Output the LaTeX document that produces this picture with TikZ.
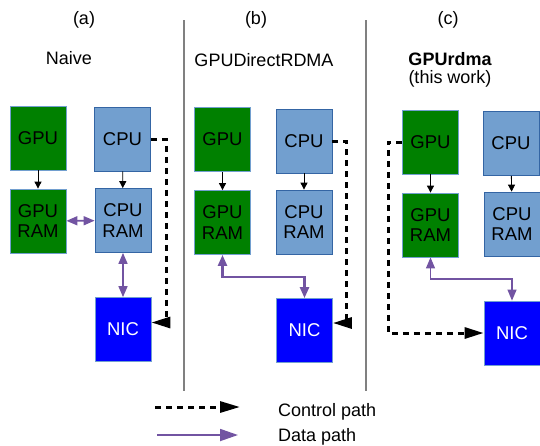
\documentclass[tikz,border=0pt]{standalone}
\usepackage{fontspec}
\setmainfont{Liberation Sans}
\usetikzlibrary{arrows.meta}

\definecolor{gpugreen}{RGB}{0,128,0}
\definecolor{cpublue}{RGB}{114,159,207}
\definecolor{cpuedge}{RGB}{52,101,164}
\definecolor{nicblue}{RGB}{0,0,255}
\definecolor{datapurple}{RGB}{114,84,162}
\definecolor{divgray}{RGB}{128,128,128}

\newcommand{\boxfont}{\fontsize{18.5}{20.5}\selectfont}
\newcommand{\labfont}{\fontsize{18}{20}\selectfont}

\begin{document}
\begin{tikzpicture}[x=1pt,y=-1pt,
  unit/.style={draw, line width=0.8pt, minimum width=56pt, minimum height=64pt,
    inner sep=0pt, align=center, font=\boxfont},
  gpubox/.style={unit, fill=gpugreen, draw=cpublue, text=black},
  cpubox/.style={unit, fill=cpublue, draw=cpuedge, text=black},
  nicbox/.style={unit, fill=nicblue, draw=cpublue, text=white},
  lab/.style={font=\labfont, inner sep=0pt, anchor=base},
  flow/.style={-{Triangle[length=7pt,width=7pt]}, line width=0.9pt, black},
  ctrl/.style={-{Triangle[length=19pt,width=11pt]}, line width=3pt, black,
    dash pattern=on 6pt off 5pt},
  data/.style={{Triangle[length=11pt,width=9pt]}-{Triangle[length=11pt,width=9pt]},
    line width=1.6pt, datapurple},
  divider/.style={line width=1.6pt, divgray}]

\useasboundingbox (0,0) rectangle (540,445);

% panel dividers
\draw[divider] (184,20) coordinate (d1top) -- (184,391) coordinate (d1bot);
\draw[divider] (366,20) coordinate (d2top) -- (366,391) coordinate (d2bot);

% headings
\node[lab] (ta) at (84,24.5) {(a)};
\node[lab] (tb) at (256,24.5) {(b)};
\node[lab] (tc) at (448,24.5) {(c)};
\node[lab] (na) at (69,64) {Naive};
\node[lab] (nb) at (264,66) {GPUDirectRDMA};
\node[lab] (nc) at (450,65) {\bfseries GPUrdma};
\node[lab] (nc2) at (450,83) {(this work)};

% (a) naive
\node[gpubox] (a-gpu)  at (38,138)    {GPU};
\node[gpubox] (a-gram) at (38,221)    {GPU\\RAM};
\node[cpubox] (a-cpu)  at (122.5,139) {CPU};
\node[cpubox] (a-cram) at (123,220.5) {CPU\\RAM};
\node[nicbox] (a-nic)  at (123,329.5) {NIC};

\draw[flow] (a-gpu) -- (a-gram);
\draw[flow] (a-cpu) -- (a-cram);
\draw[data] (a-gram) -- (a-cram);
\draw[data] (a-cram) -- (a-nic);
\coordinate (a-turn) at (166,322.5);
\draw[ctrl] (a-cpu.east) -| (a-turn) -- (a-turn -| a-nic.east);

% (b) GPUDirectRDMA
\node[gpubox] (b-gpu)  at (222.5,139.5) {GPU};
\node[gpubox] (b-gram) at (222.5,222.5) {GPU\\RAM};
\node[cpubox] (b-cpu)  at (304,141)     {CPU};
\node[cpubox] (b-cram) at (304,222)     {CPU\\RAM};
\node[nicbox] (b-nic)  at (304.5,330.5) {NIC};

\draw[flow] (b-gpu) -- (b-gram);
\draw[flow] (b-cpu) -- (b-cram);
\coordinate (b-jog) at (304.5,277);
\draw[data, line width=2.4pt] (b-gram.south) |- (b-jog) -- (b-nic.north);
\coordinate (b-turn) at (346,323);
\draw[ctrl] (b-cpu.east) -| (b-turn) -- (b-turn -| b-nic.east);

% (c) GPUrdma
\node[gpubox] (c-gpu)  at (430.5,142)   {GPU};
\node[gpubox] (c-gram) at (430.5,225)   {GPU\\RAM};
\node[cpubox] (c-cpu)  at (511,143.5)   {CPU};
\node[cpubox] (c-cram) at (512,224)     {CPU\\RAM};
\node[nicbox] (c-nic)  at (512,333)     {NIC};

\draw[flow] (c-gpu) -- (c-gram);
\draw[flow] (c-cpu) -- (c-cram);
\coordinate (c-jog) at (512,279);
\draw[data, line width=1.2pt] (c-gram.south) |- (c-jog) -- (c-nic.north);
\coordinate (c-turn) at (388,333);
\draw[ctrl] (c-gpu.west) -| (c-turn) -- (c-nic.west);

% legend
\coordinate (lc0) at (155,407);
\coordinate (lc1) at (240,407);
\coordinate (ld0) at (157,435);
\coordinate (ld1) at (238,435);
\draw[ctrl, -{Triangle[length=20pt,width=11pt]}] (lc0) -- (lc1);
\draw[datapurple, line width=1.8pt, -{Triangle[length=18pt,width=12pt]}] (ld0) -- (ld1);
\node[lab, anchor=base west] (lt1) at (278,416) {Control path};
\node[lab, anchor=base west] (lt2) at (278,441) {Data path};

\end{tikzpicture}
\end{document}
